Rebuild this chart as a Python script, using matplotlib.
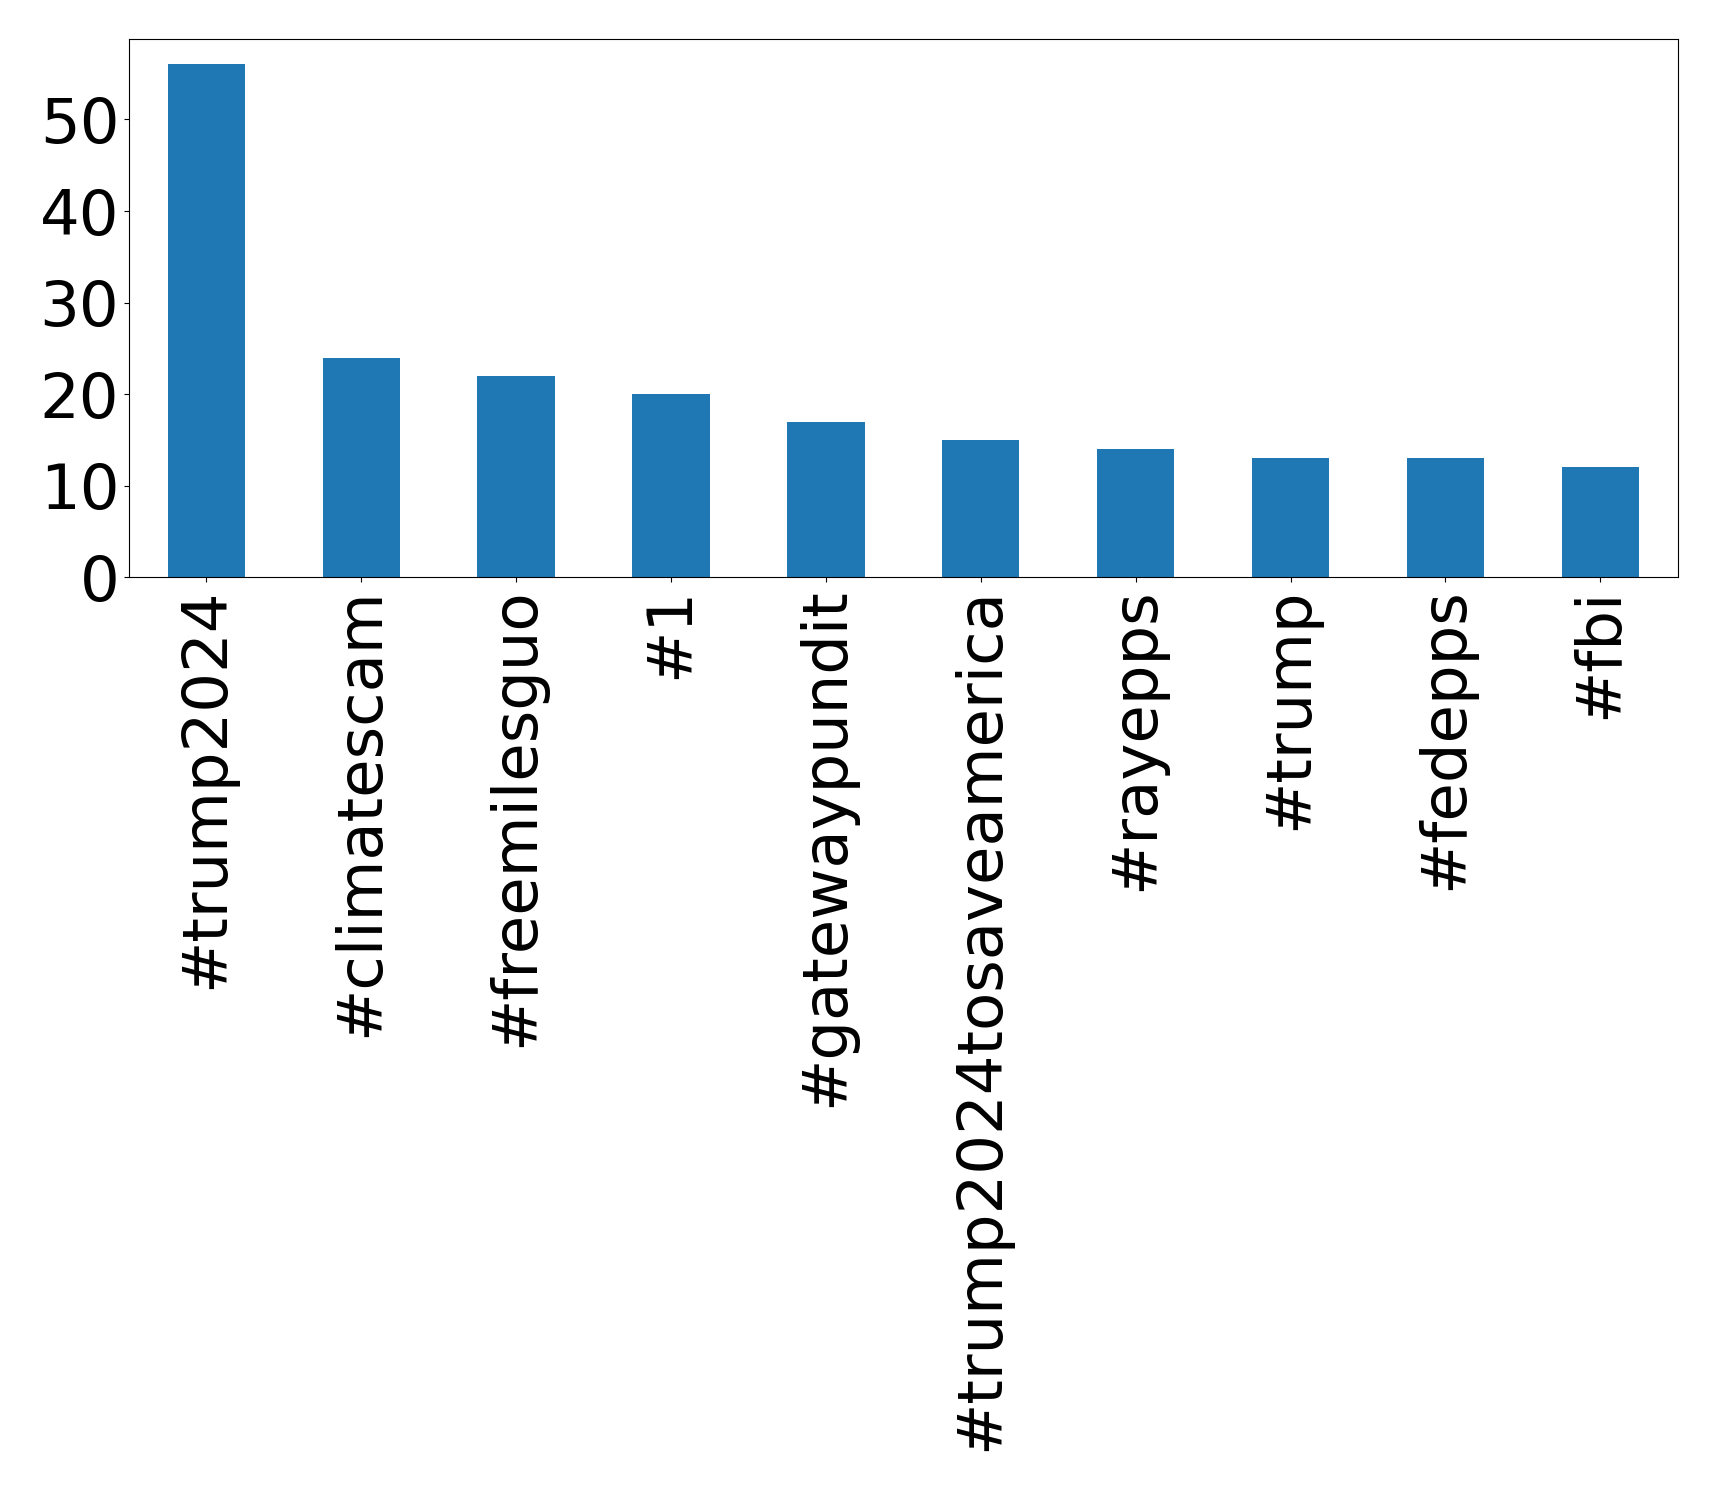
import pandas as pd
import matplotlib
matplotlib.use("Agg")
import matplotlib.pyplot as plt
from matplotlib.ticker import MultipleLocator

# Top hashtags and their counts
hashtags = ["#trump2024", "#climatescam", "#freemilesguo", "#1", "#gatewaypundit",
            "#trump2024tosaveamerica", "#rayepps", "#trump", "#fedepps", "#fbi"]
counts = [56, 24, 22, 20, 17, 15, 14, 13, 13, 12]

s = pd.Series(counts, index=hashtags)

fig = plt.figure(figsize=(17.19, 14.92), dpi=100)
ax = fig.add_subplot(111)
s.plot(kind="bar", ax=ax, color="#1f77b4")
ax.yaxis.set_major_locator(MultipleLocator(10))
ax.tick_params(axis="both", labelsize=45)
plt.subplots_adjust(left=0.075, right=0.976, top=0.974, bottom=0.613)
plt.savefig("out.png")
